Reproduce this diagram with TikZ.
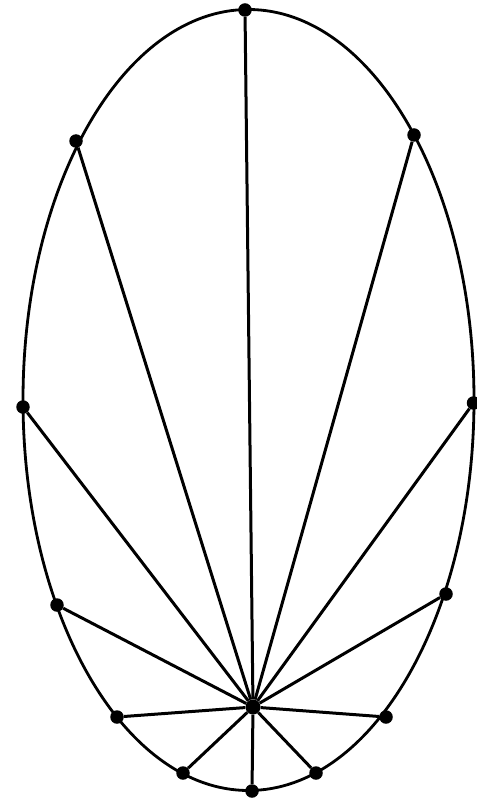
\documentclass[tikz,border=0pt]{standalone}
\begin{document}
\begin{tikzpicture}[x=1pt,y=-1pt,
  dot/.style={circle,fill=black,inner sep=0pt,minimum size=13.5pt},
  edge/.style={line width=3pt}]
\useasboundingbox (0,0) rectangle (476,802);
\draw[line width=2.8pt] (248.5,400) ellipse [x radius=225.5, y radius=390.5];
\node[dot] (t) at (245,10) {};
\node[dot] (ul) at (76,141) {};
\node[dot] (ur) at (414,135) {};
\node[dot] (l) at (23,407) {};
\node[dot] (r) at (473.5,403) {};
\node[dot] (ll) at (57,605) {};
\node[dot] (lr) at (446,594) {};
\node[dot] (bl1) at (117,717) {};
\node[dot] (br1) at (386,717) {};
\node[dot] (bl2) at (183,773) {};
\node[dot] (br2) at (316,773) {};
\node[dot] (b) at (252,791) {};
\node[dot,minimum size=15pt] (h) at (253,707) {};
\foreach \n in {t,ul,ur,l,r,ll,lr,bl1,br1,bl2,br2,b}
  \draw[edge] (h) -- (\n);
\end{tikzpicture}
\end{document}
